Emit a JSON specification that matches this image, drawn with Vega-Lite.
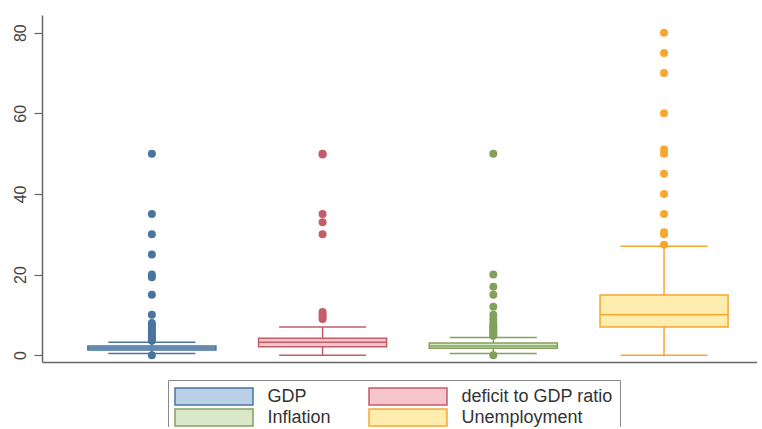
{
  "$schema": "https://vega.github.io/schema/vega-lite/v6.json",
  "width": 715,
  "height": 347,
  "autosize": {"type": "none"},
  "padding": {"left": 42, "top": 15, "right": 0, "bottom": 65},
  "background": "white",
  "config": {
    "view": {"stroke": null},
    "font": "Liberation Sans",
    "axisX": {"labels": false, "ticks": false, "title": null, "domainColor": "#666666", "domainWidth": 1.5, "grid": false},
    "axisY": {"title": null, "grid": false, "labelAngle": -90, "tickSize": 8, "labelPadding": 6, "labelFontSize": 16, "labelColor": "#444444", "domainColor": "#666666", "domainWidth": 1.5, "tickColor": "#666666", "tickWidth": 1.2}
  },
  "datasets": {
    "boxes": [
      {"group": "GDP", "lower": 0.4, "q1": 1.3, "median": 1.8, "q3": 2.3, "upper": 3.2},
      {"group": "deficit to GDP ratio", "lower": 0, "q1": 2.1, "median": 3.2, "q3": 4.2, "upper": 7},
      {"group": "Inflation", "lower": 0.4, "q1": 1.7, "median": 2.3, "q3": 3.0, "upper": 4.4},
      {"group": "Unemployment", "lower": 0, "q1": 7, "median": 10, "q3": 14.9, "upper": 27}
    ],
    "outliers": [
      {"group": "GDP", "value": 50}, {"group": "GDP", "value": 35}, {"group": "GDP", "value": 30},
      {"group": "GDP", "value": 25}, {"group": "GDP", "value": 20}, {"group": "GDP", "value": 19.3},
      {"group": "GDP", "value": 15}, {"group": "GDP", "value": 10}, {"group": "GDP", "value": 8},
      {"group": "GDP", "value": 7.5}, {"group": "GDP", "value": 7}, {"group": "GDP", "value": 6.5},
      {"group": "GDP", "value": 6}, {"group": "GDP", "value": 5.5}, {"group": "GDP", "value": 5},
      {"group": "GDP", "value": 4.5}, {"group": "GDP", "value": 4}, {"group": "GDP", "value": 3.6},
      {"group": "GDP", "value": 0},
      {"group": "deficit to GDP ratio", "value": 50}, {"group": "deficit to GDP ratio", "value": 49.8},
      {"group": "deficit to GDP ratio", "value": 35}, {"group": "deficit to GDP ratio", "value": 33},
      {"group": "deficit to GDP ratio", "value": 30}, {"group": "deficit to GDP ratio", "value": 10.7},
      {"group": "deficit to GDP ratio", "value": 10}, {"group": "deficit to GDP ratio", "value": 9.5},
      {"group": "deficit to GDP ratio", "value": 9},
      {"group": "Inflation", "value": 50}, {"group": "Inflation", "value": 20}, {"group": "Inflation", "value": 17},
      {"group": "Inflation", "value": 15}, {"group": "Inflation", "value": 12}, {"group": "Inflation", "value": 10},
      {"group": "Inflation", "value": 9}, {"group": "Inflation", "value": 8}, {"group": "Inflation", "value": 7.5},
      {"group": "Inflation", "value": 7}, {"group": "Inflation", "value": 6.5}, {"group": "Inflation", "value": 6},
      {"group": "Inflation", "value": 5.5}, {"group": "Inflation", "value": 5}, {"group": "Inflation", "value": 4.8},
      {"group": "Inflation", "value": 0},
      {"group": "Unemployment", "value": 80}, {"group": "Unemployment", "value": 75}, {"group": "Unemployment", "value": 70},
      {"group": "Unemployment", "value": 60}, {"group": "Unemployment", "value": 51}, {"group": "Unemployment", "value": 50},
      {"group": "Unemployment", "value": 45}, {"group": "Unemployment", "value": 40}, {"group": "Unemployment", "value": 35},
      {"group": "Unemployment", "value": 30.5}, {"group": "Unemployment", "value": 30}, {"group": "Unemployment", "value": 27.4}
    ]
  },
  "encoding": {
    "x": {
      "field": "group", "type": "nominal",
      "sort": ["GDP", "deficit to GDP ratio", "Inflation", "Unemployment"],
      "scale": {"paddingInner": 0.25, "paddingOuter": 0.219, "align": 0.613}
    }
  },
  "layer": [
    {
      "data": {"name": "boxes"},
      "mark": {"type": "rule", "strokeWidth": 1.5},
      "encoding": {
        "y": {"field": "lower", "type": "quantitative", "scale": {"domain": [-1.7, 84.4], "nice": false, "zero": false},
          "axis": {"values": [0, 20, 40, 60, 80]}},
        "y2": {"field": "upper"},
        "color": {"field": "group", "type": "nominal", "legend": null,
          "scale": {"range": ["#4a74a0", "#82a05c", "#f9a630", "#c45c6a"]}}
      }
    },
    {
      "data": {"name": "boxes"},
      "mark": {"type": "bar", "strokeWidth": 1.5},
      "encoding": {
        "y": {"field": "q1", "type": "quantitative"},
        "y2": {"field": "q3"},
        "fill": {"field": "group", "type": "nominal",
          "scale": {"domain": ["GDP", "deficit to GDP ratio", "Inflation", "Unemployment"], "range": ["#bad0e6", "#f5c7cc", "#d9e8c9", "#ffedae"]},
          "legend": {"title": null, "orient": "none", "legendX": 126, "legendY": 365, "direction": "horizontal", "columns": 2,
            "symbolType": "M-4.588,-1L4.588,-1L4.588,1L-4.588,1Z", "symbolSize": 289, "symbolStrokeWidth": 1.5,
            "symbolOffset": 29.5, "labelOffset": 44,
            "labelFontSize": 18, "labelColor": "#333333", "columnPadding": 35, "rowPadding": -2,
            "strokeColor": "#888888", "padding": 7, "labelLimit": 300,
            "encode": {"symbols": {"update": {"stroke": {"scale": "stroke", "field": "value"}}}}}},
        "stroke": {"field": "group", "type": "nominal", "legend": null,
          "scale": {"range": ["#4a74a0", "#82a05c", "#f9a630", "#c45c6a"]}}
      }
    },
    {
      "data": {"name": "boxes"},
      "mark": {"type": "tick", "size": 128, "thickness": 1.5, "opacity": 1},
      "encoding": {
        "y": {"field": "median", "type": "quantitative"},
        "color": {"field": "group", "type": "nominal", "legend": null}
      }
    },
    {
      "data": {"name": "boxes"},
      "mark": {"type": "tick", "size": 87, "thickness": 1.5, "opacity": 1},
      "encoding": {
        "y": {"field": "upper", "type": "quantitative"},
        "color": {"field": "group", "type": "nominal", "legend": null}
      }
    },
    {
      "data": {"name": "boxes"},
      "mark": {"type": "tick", "size": 87, "thickness": 1.5, "opacity": 1},
      "encoding": {
        "y": {"field": "lower", "type": "quantitative"},
        "color": {"field": "group", "type": "nominal", "legend": null}
      }
    },
    {
      "data": {"name": "outliers"},
      "mark": {"type": "circle", "size": 64, "opacity": 1},
      "encoding": {
        "y": {"field": "value", "type": "quantitative"},
        "color": {"field": "group", "type": "nominal", "legend": null}
      }
    }
  ]
}
